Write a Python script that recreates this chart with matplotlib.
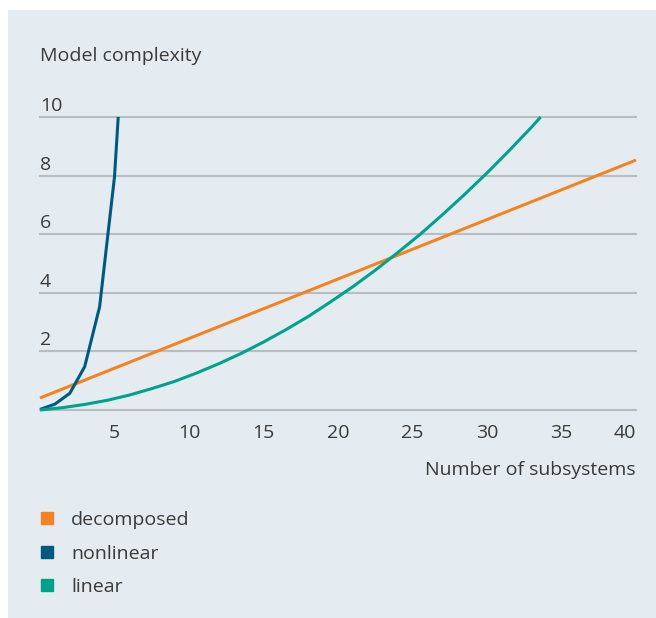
import matplotlib
matplotlib.use("Agg")
from matplotlib import pyplot as plt
from matplotlib import transforms
from matplotlib.patches import Rectangle
from matplotlib.lines import Line2D

# Data
decomposed_x = [0, 40]
decomposed_y = [0.41, 8.53]

nonlinear_x = [0, 1, 2, 3, 4, 5, 5.25]
nonlinear_y = [0.02, 0.2, 0.57, 1.48, 3.52, 7.96, 10.0]

linear_x = [0, 1.5, 3, 4.5, 6, 7.5, 9, 10.5, 12, 13.5, 15, 16.5, 18, 19.5, 21,
            22.5, 24, 25.5, 27, 28.5, 30, 31.5, 33, 33.6]
linear_y = [0, 0.08, 0.19, 0.33, 0.51, 0.73, 0.97, 1.26, 1.58, 1.93, 2.32, 2.74,
            3.19, 3.69, 4.21, 4.77, 5.37, 5.99, 6.66, 7.36, 8.09, 8.86, 9.66, 10.0]

x_ticks = [5, 10, 15, 20, 25, 30, 35, 40]
y_ticks = [0, 2, 4, 6, 8, 10]

series_names = ["decomposed", "nonlinear", "linear"]
series_colors = ["#f58220", "#005a7e", "#00a38a"]

W, H = 656, 618
txt_color = "#3a3a3a"
fs = 14
plt.rcParams["font.family"] = ["Open Sans", "DejaVu Sans"]

fig = plt.figure(figsize=(W / 100, H / 100), dpi=100)
fig.patch.set_facecolor("white")

# hintergrund panel
fig.add_artist(Rectangle((8 / W, 0), 1 - 8 / W, 1 - 10 / H, transform=fig.transFigure,
                         facecolor="#e4ecf1", edgecolor="none", zorder=0))

ax = fig.add_axes([40 / W, (H - 410) / H, (636 - 40) / W, (410 - 117) / H])
ax.set_facecolor("none")
ax.set_xlim(0, 40)
ax.set_ylim(0, 10)
for s in ax.spines.values():
    s.set_visible(False)

# grid lines
for v in y_ticks:
    ax.axhline(v, color="#b9bdc0", lw=1.5, zorder=1, clip_on=False)

# y labels sit above the grid line
lab_tr = transforms.offset_copy(ax.transData, fig=fig, x=0, y=6, units="dots")
for v in y_ticks[1:]:
    ax.text(0, v, str(v), transform=lab_tr, ha="left", va="baseline",
            fontsize=fs, color=txt_color)

ax.set_yticks([])
ax.set_xticks(x_ticks)
labels = [str(t) for t in x_ticks]
ax.set_xticklabels(labels, fontsize=fs, color=txt_color)
ax.tick_params(axis="x", length=0, pad=10)
ax.get_xticklabels()[-1].set_horizontalalignment("right")

for xs, ys, c in [(decomposed_x, decomposed_y, series_colors[0]),
                  (nonlinear_x, nonlinear_y, series_colors[1]),
                  (linear_x, linear_y, series_colors[2])]:
    ax.plot(xs, ys, color=c, lw=2.2, zorder=3, clip_on=False,
            solid_joinstyle="round", solid_capstyle="butt")

fig.text(40 / W, 1 - 61 / H, "Model complexity", ha="left", va="baseline",
         fontsize=fs, color=txt_color)
fig.text(636 / W, 1 - 470 / H, "Number of subsystems", ha="right", va="center",
         fontsize=fs, color=txt_color)

handles = [Line2D([], [], marker="s", ls="", color=c, markersize=9) for c in series_colors]
fig.legend(handles, series_names, loc="upper left", bbox_to_anchor=(35 / W, 1 - 511 / H),
           frameon=False, fontsize=fs, labelcolor=txt_color, handletextpad=0.65,
           labelspacing=0.8, borderpad=0, borderaxespad=0, handlelength=1.2)

fig.savefig("out.png", dpi=100)
